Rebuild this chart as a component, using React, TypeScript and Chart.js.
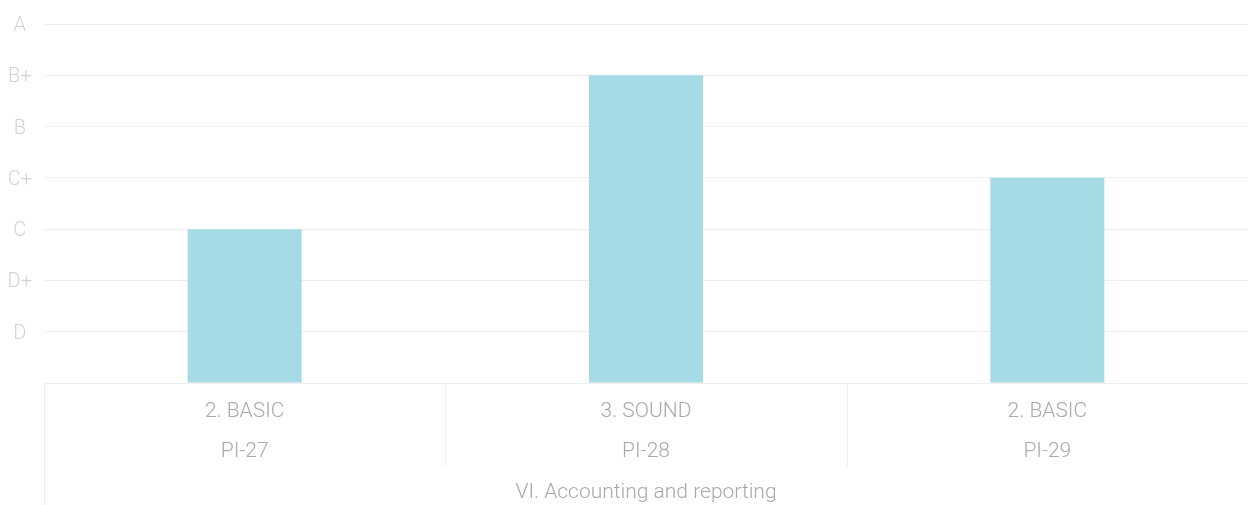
import React, { useEffect, useRef } from 'react';
import { Chart, registerables } from 'chart.js';

Chart.register(...registerables);

const categories: string[][] = [
  ['2. BASIC', 'PI-27'],
  ['3. SOUND', 'PI-28'],
  ['2. BASIC', 'PI-29'],
];
const groupLabels: string[] = ['VI. Accounting and reporting'];
const gradeLabels: string[] = ['', 'D', 'D+', 'C', 'C+', 'B', 'B+', 'A'];
const scores: number[] = [3, 6, 4];

const separators = {
  id: 'separators',
  afterDraw(chart: any) {
    const x = chart.scales.x;
    const ctx = chart.ctx;
    ctx.save();
    ctx.strokeStyle = '#eeeeee';
    ctx.lineWidth = 1;
    ctx.beginPath();
    const n = x.ticks.length;
    for (let i = 1; i < n; i++) {
      const px = Math.round((x.getPixelForTick(i - 1) + x.getPixelForTick(i)) / 2) + 0.5;
      ctx.moveTo(px, x.top);
      ctx.lineTo(px, x.bottom - 15);
    }
    const lx = Math.round(x.left) + 0.5;
    ctx.moveTo(lx, x.top);
    ctx.lineTo(lx, chart.height);
    ctx.stroke();
    ctx.restore();
  },
};

export default function App() {
  const ref = useRef<HTMLCanvasElement | null>(null);
  useEffect(() => {
    if (!ref.current) return;
    const chart = new Chart(ref.current, {
      type: 'bar',
      data: {
        labels: categories,
        datasets: [
          {
            data: scores,
            backgroundColor: '#a6dbe6',
            borderWidth: 0,
            categoryPercentage: 0.8,
            barPercentage: 0.355,
          },
        ],
      },
      plugins: [separators],
      options: {
        animation: false,
        responsive: true,
        maintainAspectRatio: false,
        layout: { padding: { top: 13, left: 0, right: 0, bottom: 0 } },
        plugins: { legend: { display: false }, tooltip: { enabled: false } },
        scales: {
          y: {
            min: 0,
            max: 7,
            afterFit: (s: any) => {
              s.width = 44;
            },
            ticks: {
              stepSize: 1,
              padding: 12,
              labelOffset: 2,
              crossAlign: 'center',
              color: '#d0d4d7',
              font: { family: 'Roboto', size: 20, weight: '300' },
              callback: (v: any) => gradeLabels[Number(v)] ?? '',
            },
            grid: { color: '#eeeeee', drawTicks: false },
            border: { display: false },
          },
          x: {
            type: 'category',
            offset: true,
            grid: { display: false, drawTicks: false },
            border: { display: true, color: '#eeeeee' },
            ticks: {
              padding: 9,
              color: '#a9a9a9',
              maxRotation: 0,
              autoSkip: false,
              font: { family: 'Roboto', size: 21, weight: '300', lineHeight: '40px' },
            },
          },
          x2: {
            type: 'category',
            position: 'bottom',
            weight: 1,
            labels: groupLabels,
            offset: true,
            grid: { display: false, drawTicks: false },
            border: { display: false },
            ticks: {
              padding: 0,
              color: '#a9a9a9',
              maxRotation: 0,
              font: { family: 'Roboto', size: 21, weight: '300', lineHeight: '24px' },
            },
          },
        },
      },
    } as any);
    return () => chart.destroy();
  }, []);
  return (
    <div style={{ position: 'fixed', left: 0, top: 0, width: 1248, height: 505 }}>
      <canvas ref={ref} />
    </div>
  );
}
